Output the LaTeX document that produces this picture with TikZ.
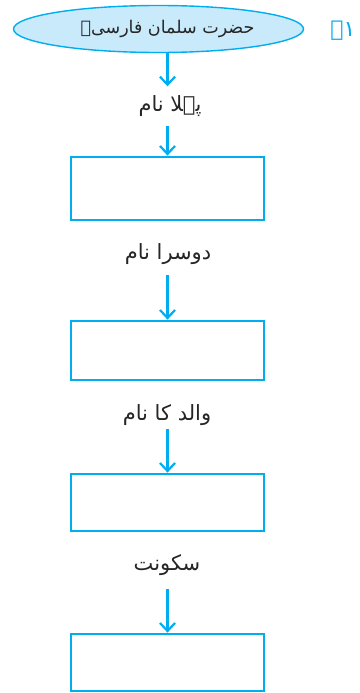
\documentclass[tikz,border=0pt]{standalone}
\usepackage{fontspec}
\TeXXeTstate=1
\newfontfamily\urdu[Script=Arabic]{DejaVu Sans}
\usetikzlibrary{arrows.meta,shapes.geometric}
\definecolor{cyanline}{RGB}{0,174,239}
\definecolor{cyanfill}{RGB}{201,234,250}
\tikzset{
  stepbox/.style={draw=cyanline, line width=2.8pt, rectangle, inner sep=0pt},
  lbl/.style={inner sep=0pt, text=black!85, font=\urdu\fontsize{21}{24}\selectfont},
  arr/.style={draw=cyanline, line width=2.2pt, -{Straight Barb[length=8pt,width=15pt]}},
}
\begin{document}
\begin{tikzpicture}[x=1pt,y=-1pt]
\useasboundingbox (0,0) rectangle (359,693);
\node[ellipse, draw=cyanline, fill=cyanfill, line width=1.4pt, minimum width=290pt, minimum height=47pt, inner sep=0pt, text=black!85] (title) at (158.5,29) {\hspace*{18pt}\urdu\fontsize{17.5}{22}\selectfont\beginR حضرت سلمان فارسیؓ\endR};
\node[inner sep=0pt, text=cyanline, font=\urdu\fontsize{22}{24}\selectfont] (num) at (343,31) {\beginR ۱۔\endR};

\node[lbl, minimum height=39pt] (l1) at (170,106) {\beginR پہلا نام\endR};
\node[stepbox, minimum width=193pt, minimum height=63pt] (b1) at (167.5,188.5) {};
\node[lbl, minimum height=42pt] (l2) at (168,254) {\beginR دوسرا نام\endR};
\node[stepbox, minimum width=193pt, minimum height=59pt] (b2) at (167.5,350.5) {};
\node[lbl, minimum height=28pt] (l3) at (167,415) {\beginR والد کا نام\endR};
\node[stepbox, minimum width=193pt, minimum height=57pt] (b3) at (167.5,502.5) {};
\node[lbl, minimum height=48pt] (l4) at (167,565) {\beginR سکونت\endR};
\node[stepbox, minimum width=193pt, minimum height=57pt] (b4) at (167.5,662.5) {};

\draw[arr] (title.south -| b1.north) -- (l1.north -| b1.north);
\draw[arr] (l1.south -| b1.north) -- (b1.north);
\draw[arr] (l2.south -| b2.north) -- (b2.north);
\draw[arr] (l3.south -| b3.north) -- (b3.north);
\draw[arr] (l4.south -| b4.north) -- (b4.north);
\end{tikzpicture}
\end{document}
